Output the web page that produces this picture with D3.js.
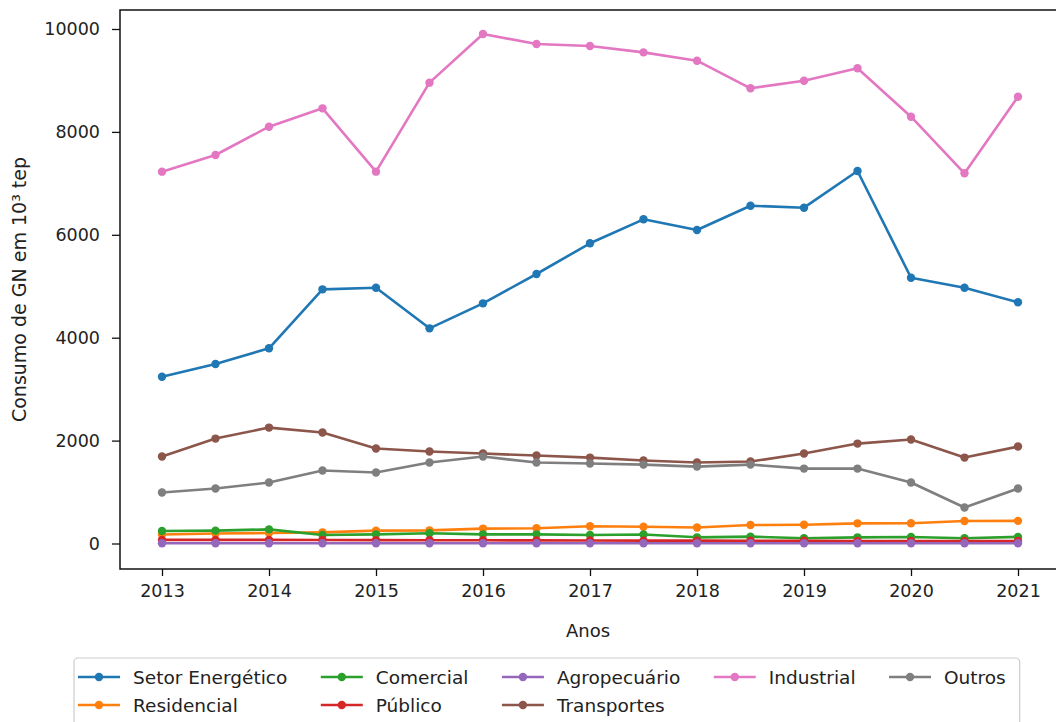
<!DOCTYPE html>
<html>
<head>
<meta charset="utf-8">
<script src="https://cdn.jsdelivr.net/npm/d3@7"></script>
<style>
  html, body { margin: 0; padding: 0; background: #fff; }
  svg { display: block; font-family: "DejaVu Sans", sans-serif; }
</style>
</head>
<body>
<svg id="chart" width="1056" height="722"></svg>
<script>
// ---- data ----
const years = [2013, 2013.5, 2014, 2014.5, 2015, 2015.5, 2016, 2016.5, 2017, 2017.5, 2018, 2018.5, 2019, 2019.5, 2020, 2020.5, 2021];
const xTicks = [2013, 2014, 2015, 2016, 2017, 2018, 2019, 2020, 2021];
const yTicks = [0, 2000, 4000, 6000, 8000, 10000];
const seriesNames = ["Setor Energético", "Residencial", "Comercial", "Público", "Agropecuário", "Transportes", "Industrial", "Outros"];
const setorEnergetico = [3242, 3489, 3794, 4940, 4972, 4182, 4668, 5238, 5835, 6301, 6093, 6565, 6527, 7240, 5166, 4972, 4688];
const residencial     = [175, 195, 205, 217, 250, 256, 290, 295, 335, 327, 310, 359, 365, 392, 395, 437, 440];
const comercial       = [243, 250, 275, 165, 178, 198, 178, 178, 165, 175, 120, 133, 101, 120, 125, 101, 128];
const publico         = [70, 70, 70, 68, 66, 64, 62, 60, 58, 56, 55, 54, 52, 50, 50, 48, 48];
const agropecuario    = [5, 5, 5, 5, 5, 5, 5, 5, 5, 5, 5, 5, 5, 5, 5, 5, 5];
const transportes     = [1690, 2039, 2253, 2156, 1845, 1787, 1748, 1709, 1670, 1612, 1573, 1593, 1748, 1942, 2020, 1670, 1884];
const industrial      = [7227, 7551, 8101, 8458, 7227, 8957, 9903, 9708, 9669, 9546, 9384, 8847, 8995, 9236, 8295, 7195, 8684];
const outros          = [990, 1068, 1185, 1418, 1379, 1573, 1690, 1573, 1554, 1534, 1495, 1534, 1456, 1456, 1185, 699, 1068];
const seriesValues = [setorEnergetico, residencial, comercial, publico, agropecuario, transportes, industrial, outros];
const colors = ["#1f77b4", "#ff7f0e", "#2ca02c", "#d62728", "#9467bd", "#8c564b", "#e377c2", "#7f7f7f"];
const yLabel = "Consumo de GN em 10³ tep";
const xLabel = "Anos";

// ---- layout ----
const svg = d3.select("#chart");
const frame = { left: 120, right: 1062, top: 10, bottom: 569 };
const x = d3.scaleLinear().domain([2013, 2021]).range([162, 1018]);
const y = d3.scaleLinear().domain([0, 10000]).range([543.5, 29]);
const textColor = "#222";
const tickFont = 17.5;

// lines
const line = d3.line().x((d, i) => x(years[i])).y(d => y(d));
seriesValues.forEach((vals, k) => {
  const g = svg.append("g");
  g.append("path").datum(vals)
    .attr("d", line)
    .attr("fill", "none")
    .attr("stroke", colors[k])
    .attr("stroke-width", 2.6)
    .attr("stroke-linejoin", "round");
  g.selectAll("circle").data(vals).join("circle")
    .attr("cx", (d, i) => x(years[i]))
    .attr("cy", d => y(d))
    .attr("r", 4.2)
    .attr("fill", colors[k]);
});

// frame
svg.append("rect")
  .attr("x", frame.left).attr("y", frame.top)
  .attr("width", frame.right - frame.left).attr("height", frame.bottom - frame.top)
  .attr("fill", "none").attr("stroke", "#111").attr("stroke-width", 1.5);

// x axis
const xAxis = svg.append("g")
  .attr("transform", `translate(0,${frame.bottom})`)
  .call(d3.axisBottom(x).tickValues(xTicks).tickFormat(d3.format("d")).tickSize(7).tickPadding(9));
xAxis.select(".domain").remove();
xAxis.selectAll("line").attr("stroke", "#111").attr("stroke-width", 1.3);
xAxis.selectAll("text").attr("font-size", tickFont).attr("fill", textColor).attr("font-family", "DejaVu Sans");

// y axis
const yAxis = svg.append("g")
  .attr("transform", `translate(${frame.left},0)`)
  .call(d3.axisLeft(y).tickValues(yTicks).tickFormat(d3.format("d")).tickSize(8).tickPadding(12));
yAxis.select(".domain").remove();
yAxis.selectAll("line").attr("stroke", "#111").attr("stroke-width", 1.3);
yAxis.selectAll("text").attr("font-size", tickFont).attr("fill", textColor).attr("font-family", "DejaVu Sans");

// axis labels
svg.append("text")
  .attr("x", 588).attr("y", 637)
  .attr("text-anchor", "middle").attr("font-size", 18).attr("fill", textColor)
  .text(xLabel);
svg.append("text")
  .attr("transform", `translate(26,${(frame.top + frame.bottom) / 2}) rotate(-90)`)
  .attr("text-anchor", "middle").attr("font-size", 19).attr("fill", textColor)
  .text(yLabel);

// legend (ncol = 5, matplotlib-style column filling)
const legend = svg.append("g");
const legBox = legend.append("rect")
  .attr("x", 74).attr("y", 658).attr("rx", 4).attr("ry", 4)
  .attr("height", 80)
  .attr("fill", "#fff").attr("stroke", "#cccccc").attr("stroke-width", 1.2);
const ncols = 5, handleLen = 42, textGap = 13, colSpacing = 33.5;
const nrows = Math.ceil(seriesNames.length / ncols);
const numLarge = seriesNames.length % ncols || ncols;
const rowY = [677, 705];
let colX = 78, idx = 0;
for (let c = 0; c < ncols; c++) {
  const n = c < numLarge ? nrows : nrows - 1;
  let maxW = 0;
  for (let r = 0; r < n; r++) {
    const k = idx++;
    const gy = rowY[r];
    legend.append("line")
      .attr("x1", colX).attr("x2", colX + handleLen)
      .attr("y1", gy).attr("y2", gy)
      .attr("stroke", colors[k]).attr("stroke-width", 2.6);
    legend.append("circle")
      .attr("cx", colX + handleLen / 2).attr("cy", gy).attr("r", 4.2)
      .attr("fill", colors[k]);
    const t = legend.append("text")
      .attr("x", colX + handleLen + textGap).attr("y", gy)
      .attr("dy", "0.36em").attr("font-size", 18.5).attr("fill", textColor)
      .text(seriesNames[k]);
    maxW = Math.max(maxW, t.node().getComputedTextLength());
  }
  const end = colX + handleLen + textGap + maxW;
  if (c === ncols - 1) legBox.attr("width", end + 14 - 74);
  colX = end + colSpacing;
}
</script>
</body>
</html>
